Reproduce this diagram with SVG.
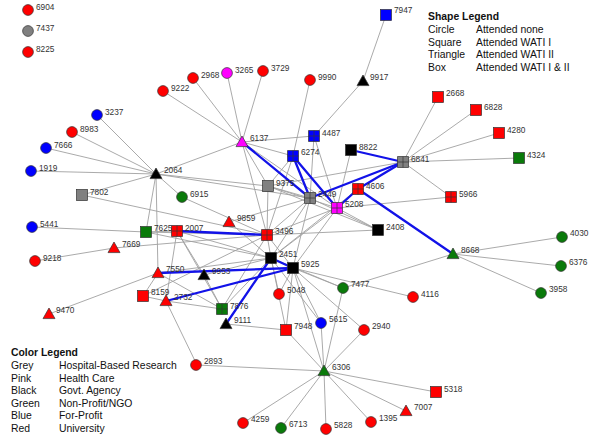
<svg xmlns="http://www.w3.org/2000/svg" width="600" height="442" viewBox="0 0 600 442">
<style>
.e line{stroke:#a0a0a0;stroke-width:0.9}
.b line{stroke:#1212e8;stroke-width:2.3;stroke-linecap:round}
use{stroke:#333;stroke-width:0.7}
.red{fill:#ff0000}.grey{fill:#808080}.blue{fill:#0000ff}.green{fill:#0a7a0a}.black{fill:#000}.pink{fill:#ff00ff}
.nl{font-family:"Liberation Sans",Arial,sans-serif;font-size:8.3px;fill:#333}
.lg{font-family:"Liberation Sans",Arial,sans-serif;font-size:10.4px;fill:#111}
.lh{font-weight:bold}
</style>
<defs>
<circle id="c" r="5.4"/>
<rect id="s" x="-5.5" y="-5.5" width="11" height="11"/>
<path id="t" d="M0,-6L6,4.6H-6Z"/>
<path id="x" d="M-5.5,-5.5H5.5V5.5H-5.5ZM0,-5.5V5.5M-5.5,0H5.5"/>
</defs>
<rect width="600" height="442" fill="#fff"/>
<g id="connectors">
<g class="e">
<line x1="156" y1="174" x2="97" y2="115"/>
<line x1="156" y1="174" x2="72" y2="132"/>
<line x1="156" y1="174" x2="46" y2="148"/>
<line x1="156" y1="174" x2="31" y2="171"/>
<line x1="156" y1="174" x2="82" y2="195"/>
<line x1="156" y1="174" x2="182" y2="197"/>
<line x1="156" y1="174" x2="146" y2="232"/>
<line x1="156" y1="174" x2="158" y2="273"/>
<line x1="156" y1="174" x2="242" y2="142"/>
<line x1="156" y1="174" x2="268" y2="186"/>
<line x1="156" y1="174" x2="310" y2="198"/>
<line x1="242" y1="142" x2="163" y2="91"/>
<line x1="242" y1="142" x2="193" y2="78"/>
<line x1="242" y1="142" x2="227" y2="73"/>
<line x1="242" y1="142" x2="263" y2="71"/>
<line x1="242" y1="142" x2="314" y2="136"/>
<line x1="242" y1="142" x2="293" y2="156"/>
<line x1="242" y1="142" x2="268" y2="186"/>
<line x1="242" y1="142" x2="337" y2="208"/>
<line x1="242" y1="142" x2="267" y2="235"/>
<line x1="310" y1="80" x2="293" y2="156"/>
<line x1="363" y1="81" x2="386" y2="15"/>
<line x1="363" y1="81" x2="314" y2="136"/>
<line x1="314" y1="136" x2="310" y2="198"/>
<line x1="314" y1="136" x2="337" y2="208"/>
<line x1="293" y1="156" x2="268" y2="186"/>
<line x1="293" y1="156" x2="267" y2="235"/>
<line x1="351" y1="150" x2="337" y2="208"/>
<line x1="403" y1="162" x2="438" y2="97"/>
<line x1="403" y1="162" x2="476" y2="110"/>
<line x1="403" y1="162" x2="499" y2="133"/>
<line x1="403" y1="162" x2="519" y2="158"/>
<line x1="403" y1="162" x2="451" y2="197"/>
<line x1="403" y1="162" x2="268" y2="186"/>
<line x1="337" y1="208" x2="451" y2="197"/>
<line x1="268" y1="186" x2="310" y2="198"/>
<line x1="268" y1="186" x2="267" y2="235"/>
<line x1="268" y1="186" x2="378" y2="230"/>
<line x1="268" y1="186" x2="337" y2="208"/>
<line x1="310" y1="198" x2="267" y2="235"/>
<line x1="310" y1="198" x2="271" y2="258"/>
<line x1="310" y1="198" x2="293" y2="268"/>
<line x1="310" y1="198" x2="378" y2="230"/>
<line x1="337" y1="208" x2="267" y2="235"/>
<line x1="337" y1="208" x2="271" y2="258"/>
<line x1="337" y1="208" x2="293" y2="268"/>
<line x1="337" y1="208" x2="378" y2="230"/>
<line x1="267" y1="235" x2="271" y2="258"/>
<line x1="267" y1="235" x2="378" y2="230"/>
<line x1="267" y1="235" x2="293" y2="268"/>
<line x1="358" y1="189" x2="271" y2="258"/>
<line x1="82" y1="195" x2="267" y2="235"/>
<line x1="182" y1="197" x2="267" y2="235"/>
<line x1="32" y1="227" x2="146" y2="232"/>
<line x1="35" y1="261" x2="114" y2="248"/>
<line x1="114" y1="248" x2="267" y2="235"/>
<line x1="146" y1="232" x2="177" y2="231"/>
<line x1="146" y1="232" x2="271" y2="258"/>
<line x1="146" y1="232" x2="267" y2="235"/>
<line x1="177" y1="231" x2="204" y2="275"/>
<line x1="177" y1="231" x2="166" y2="301"/>
<line x1="177" y1="231" x2="222" y2="309"/>
<line x1="177" y1="231" x2="271" y2="258"/>
<line x1="229" y1="222" x2="310" y2="198"/>
<line x1="229" y1="222" x2="271" y2="258"/>
<line x1="158" y1="273" x2="271" y2="258"/>
<line x1="158" y1="273" x2="222" y2="309"/>
<line x1="158" y1="273" x2="143" y2="296"/>
<line x1="49" y1="314" x2="158" y2="273"/>
<line x1="143" y1="296" x2="267" y2="235"/>
<line x1="143" y1="296" x2="166" y2="301"/>
<line x1="166" y1="301" x2="222" y2="309"/>
<line x1="166" y1="301" x2="197" y2="365"/>
<line x1="204" y1="275" x2="222" y2="309"/>
<line x1="204" y1="275" x2="271" y2="258"/>
<line x1="222" y1="309" x2="271" y2="258"/>
<line x1="222" y1="309" x2="267" y2="235"/>
<line x1="226" y1="324" x2="286" y2="330"/>
<line x1="271" y1="258" x2="279" y2="294"/>
<line x1="271" y1="258" x2="321" y2="323"/>
<line x1="271" y1="258" x2="286" y2="330"/>
<line x1="271" y1="258" x2="343" y2="288"/>
<line x1="293" y1="268" x2="343" y2="288"/>
<line x1="293" y1="268" x2="321" y2="323"/>
<line x1="293" y1="268" x2="364" y2="330"/>
<line x1="293" y1="268" x2="413" y2="297"/>
<line x1="293" y1="268" x2="324" y2="371"/>
<line x1="293" y1="268" x2="286" y2="330"/>
<line x1="293" y1="268" x2="279" y2="294"/>
<line x1="453" y1="254" x2="562" y2="237"/>
<line x1="453" y1="254" x2="561" y2="266"/>
<line x1="453" y1="254" x2="541" y2="293"/>
<line x1="453" y1="254" x2="343" y2="288"/>
<line x1="324" y1="371" x2="286" y2="330"/>
<line x1="324" y1="371" x2="321" y2="323"/>
<line x1="324" y1="371" x2="364" y2="330"/>
<line x1="324" y1="371" x2="197" y2="365"/>
<line x1="324" y1="371" x2="243" y2="423"/>
<line x1="324" y1="371" x2="281" y2="428"/>
<line x1="324" y1="371" x2="326" y2="429"/>
<line x1="324" y1="371" x2="371" y2="422"/>
<line x1="324" y1="371" x2="436" y2="392"/>
<line x1="324" y1="371" x2="406" y2="411"/>
<line x1="324" y1="371" x2="343" y2="288"/>
</g>
<g class="b">
<line x1="242" y1="142" x2="310" y2="198"/>
<line x1="293" y1="156" x2="310" y2="198"/>
<line x1="293" y1="156" x2="337" y2="208"/>
<line x1="351" y1="150" x2="403" y2="162"/>
<line x1="403" y1="162" x2="310" y2="198"/>
<line x1="403" y1="162" x2="358" y2="189"/>
<line x1="358" y1="189" x2="337" y2="208"/>
<line x1="358" y1="189" x2="453" y2="254"/>
<line x1="177" y1="231" x2="267" y2="235"/>
<line x1="271" y1="258" x2="293" y2="268"/>
<line x1="158" y1="273" x2="293" y2="268"/>
<line x1="166" y1="301" x2="293" y2="268"/>
<line x1="271" y1="258" x2="226" y2="324"/>
</g>
</g>
<g id="nodes" class="nl">
<g id="n6904"><use href="#c" x="28" y="10" class="red"/><text x="36" y="10">6904</text></g>
<g id="n7437"><use href="#c" x="28" y="31" class="grey"/><text x="36" y="31">7437</text></g>
<g id="n8225"><use href="#c" x="28" y="52" class="red"/><text x="36" y="52">8225</text></g>
<g id="n9222"><use href="#c" x="163" y="91" class="red"/><text x="171" y="91">9222</text></g>
<g id="n2968"><use href="#c" x="193" y="78" class="red"/><text x="201" y="78">2968</text></g>
<g id="n3265"><use href="#c" x="227" y="73" class="pink"/><text x="235" y="73">3265</text></g>
<g id="n3729"><use href="#c" x="263" y="71" class="red"/><text x="271" y="71">3729</text></g>
<g id="n9990"><use href="#c" x="310" y="80" class="red"/><text x="318" y="80">9990</text></g>
<g id="n9917"><use href="#t" x="363" y="81" class="black"/><text x="370" y="80">9917</text></g>
<g id="n7947"><use href="#s" x="386" y="15" class="blue"/><text x="394" y="13">7947</text></g>
<g id="n3237"><use href="#c" x="97" y="115" class="blue"/><text x="105" y="115">3237</text></g>
<g id="n8983"><use href="#c" x="72" y="132" class="red"/><text x="80" y="132">8983</text></g>
<g id="n7666"><use href="#c" x="46" y="148" class="blue"/><text x="54" y="148">7666</text></g>
<g id="n1919"><use href="#c" x="31" y="171" class="blue"/><text x="39" y="171">1919</text></g>
<g id="n2064"><use href="#t" x="156" y="174" class="black"/><text x="164" y="173">2064</text></g>
<g id="n7802"><use href="#s" x="82" y="195" class="grey"/><text x="90" y="195">7802</text></g>
<g id="n6915"><use href="#c" x="182" y="197" class="green"/><text x="190" y="197">6915</text></g>
<g id="n6137"><use href="#t" x="242" y="142" class="pink"/><text x="250" y="141">6137</text></g>
<g id="n4487"><use href="#x" x="314" y="136" class="blue"/><text x="322" y="136">4487</text></g>
<g id="n6274"><use href="#x" x="293" y="156" class="blue"/><text x="301" y="155">6274</text></g>
<g id="n8822"><use href="#s" x="351" y="150" class="black"/><text x="359" y="150">8822</text></g>
<g id="n6841"><use href="#x" x="403" y="162" class="grey"/><text x="411" y="162">6841</text></g>
<g id="n2668"><use href="#s" x="438" y="97" class="red"/><text x="446" y="96">2668</text></g>
<g id="n6828"><use href="#s" x="476" y="110" class="red"/><text x="484" y="110">6828</text></g>
<g id="n4280"><use href="#s" x="499" y="133" class="red"/><text x="507" y="133">4280</text></g>
<g id="n4324"><use href="#s" x="519" y="158" class="green"/><text x="527" y="158">4324</text></g>
<g id="n5966"><use href="#x" x="451" y="197" class="red"/><text x="459" y="197">5966</text></g>
<g id="n9375"><use href="#s" x="268" y="186" class="grey"/><text x="276" y="186">9375</text></g>
<g id="n2449"><use href="#x" x="310" y="198" class="grey"/><text x="318" y="197">2449</text></g>
<g id="n4606"><use href="#x" x="358" y="189" class="red"/><text x="366" y="189">4606</text></g>
<g id="n5208"><use href="#x" x="337" y="208" class="pink"/><text x="345" y="207">5208</text></g>
<g id="n2408"><use href="#s" x="378" y="230" class="black"/><text x="386" y="230">2408</text></g>
<g id="n5441"><use href="#c" x="32" y="227" class="blue"/><text x="40" y="227">5441</text></g>
<g id="n7625"><use href="#s" x="146" y="232" class="green"/><text x="154" y="231">7625</text></g>
<g id="n2007"><use href="#x" x="177" y="231" class="red"/><text x="185" y="231">2007</text></g>
<g id="n9859"><use href="#t" x="229" y="222" class="red"/><text x="237" y="221">9859</text></g>
<g id="n3496"><use href="#x" x="267" y="235" class="red"/><text x="275" y="234">3496</text></g>
<g id="n7669"><use href="#t" x="114" y="248" class="red"/><text x="122" y="247">7669</text></g>
<g id="n9218"><use href="#c" x="35" y="261" class="red"/><text x="43" y="261">9218</text></g>
<g id="n2451"><use href="#s" x="271" y="258" class="black"/><text x="279" y="257">2451</text></g>
<g id="n5925"><use href="#s" x="293" y="268" class="black"/><text x="301" y="267">5925</text></g>
<g id="n7550"><use href="#t" x="158" y="273" class="red"/><text x="166" y="272">7550</text></g>
<g id="n9953"><use href="#t" x="204" y="275" class="black"/><text x="212" y="274">9953</text></g>
<g id="n8159"><use href="#s" x="143" y="296" class="red"/><text x="151" y="295">8159</text></g>
<g id="n2732"><use href="#t" x="166" y="301" class="red"/><text x="174" y="300">2732</text></g>
<g id="n5048"><use href="#c" x="279" y="294" class="red"/><text x="287" y="293">5048</text></g>
<g id="n7477"><use href="#c" x="343" y="288" class="green"/><text x="351" y="287">7477</text></g>
<g id="n8668"><use href="#t" x="453" y="254" class="green"/><text x="461" y="253">8668</text></g>
<g id="n4030"><use href="#c" x="562" y="237" class="green"/><text x="570" y="236">4030</text></g>
<g id="n6376"><use href="#c" x="561" y="266" class="green"/><text x="569" y="265">6376</text></g>
<g id="n3958"><use href="#c" x="541" y="293" class="green"/><text x="549" y="292">3958</text></g>
<g id="n4116"><use href="#c" x="413" y="297" class="red"/><text x="421" y="297">4116</text></g>
<g id="n9470"><use href="#t" x="49" y="314" class="red"/><text x="56" y="313">9470</text></g>
<g id="n7876"><use href="#x" x="222" y="309" class="green"/><text x="230" y="309">7876</text></g>
<g id="n9111"><use href="#t" x="226" y="324" class="black"/><text x="234" y="323">9111</text></g>
<g id="n7948"><use href="#s" x="286" y="330" class="red"/><text x="294" y="329">7948</text></g>
<g id="n5615"><use href="#c" x="321" y="323" class="blue"/><text x="329" y="322">5615</text></g>
<g id="n2940"><use href="#c" x="364" y="330" class="red"/><text x="372" y="329">2940</text></g>
<g id="n2893"><use href="#c" x="196" y="365" class="red"/><text x="204" y="364">2893</text></g>
<g id="n6306"><use href="#t" x="324" y="371" class="green"/><text x="332" y="370">6306</text></g>
<g id="n5318"><use href="#s" x="436" y="392" class="red"/><text x="444" y="392">5318</text></g>
<g id="n7007"><use href="#t" x="406" y="411" class="red"/><text x="414" y="410">7007</text></g>
<g id="n4259"><use href="#c" x="243" y="423" class="red"/><text x="251" y="422">4259</text></g>
<g id="n6713"><use href="#c" x="281" y="428" class="green"/><text x="289" y="427">6713</text></g>
<g id="n5828"><use href="#c" x="326" y="429" class="red"/><text x="334" y="428">5828</text></g>
<g id="n1395"><use href="#c" x="371" y="422" class="red"/><text x="379" y="421">1395</text></g>
</g>
<g id="shape-legend" class="lg">
<text x="428" y="20" class="lh">Shape Legend</text>
<text x="428" y="33">Circle</text><text x="476" y="33">Attended none</text>
<text x="428" y="45.6">Square</text><text x="476" y="45.6">Attended WATI I</text>
<text x="428" y="58.2">Triangle</text><text x="476" y="58.2">Attended WATI II</text>
<text x="428" y="70.8">Box</text><text x="476" y="70.8">Attended WATI I &amp; II</text>
</g>
<g id="color-legend" class="lg">
<text x="11" y="356" class="lh">Color Legend</text>
<text x="11" y="369">Grey</text><text x="59" y="369">Hospital-Based Research</text>
<text x="11" y="381.6">Pink</text><text x="59" y="381.6">Health Care</text>
<text x="11" y="394.2">Black</text><text x="59" y="394.2">Govt. Agency</text>
<text x="11" y="406.8">Green</text><text x="59" y="406.8">Non-Profit/NGO</text>
<text x="11" y="419.4">Blue</text><text x="59" y="419.4">For-Profit</text>
<text x="11" y="432">Red</text><text x="59" y="432">University</text>
</g>
</svg>
